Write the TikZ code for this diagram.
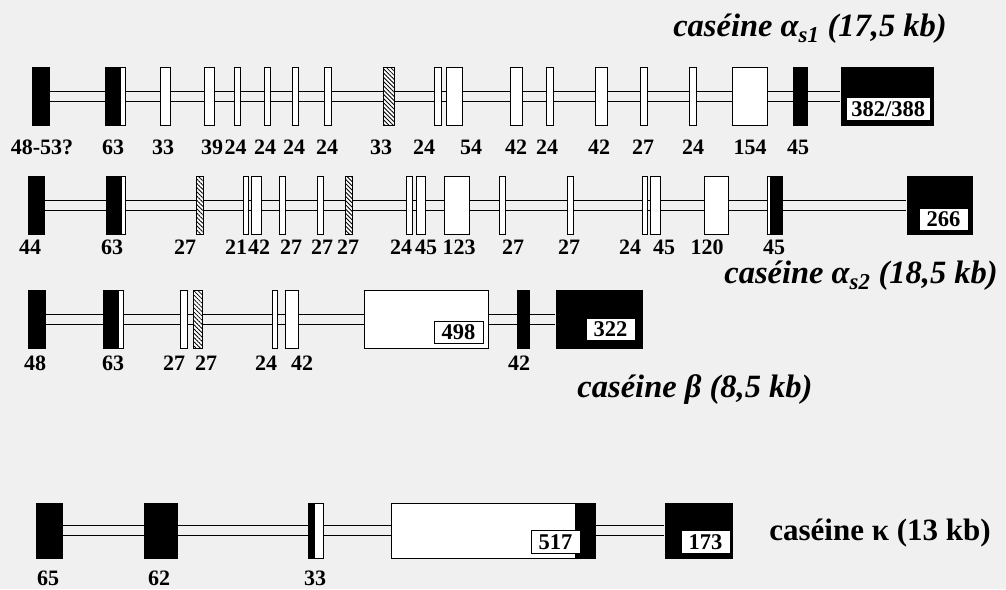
\documentclass[tikz,border=0pt]{standalone}
\usepackage{fontspec}
\setmainfont{Liberation Serif}
\usepackage{tikz}
\usetikzlibrary{positioning,patterns.meta}
\definecolor{paper}{gray}{0.94}

\begin{document}
\begin{tikzpicture}[x=1pt,y=-1pt,
    exon/.style={draw=black,fill=white,line width=1pt,inner sep=0pt,minimum height=58pt},
    utr/.style={exon,fill=black},
    hatch/.style={exon,postaction={pattern={Lines[angle=-45,distance=3pt,line width=0.8pt]}}},
    blackleft/.style={exon,path picture={\fill[black] (path picture bounding box.south west) rectangle ([xshift=-#1]path picture bounding box.north east);}},
    blackright/.style={exon,path picture={\fill[black] ([xshift=#1]path picture bounding box.south west) rectangle (path picture bounding box.north east);}},
    intron/.style={draw=black,line width=1pt,double=paper,double distance=9pt,shorten <=0.5pt,shorten >=0.5pt},
    lab/.style={font=\bfseries\fontsize{22}{24}\selectfont,inner sep=0pt},
    numbox/.style={draw=black,fill=white,line width=1pt,inner xsep=5pt,inner ysep=3.5pt,minimum width=49pt,font=\bfseries\fontsize{22.5}{24}\selectfont},
    genetitle/.style={font=\bfseries\itshape\fontsize{32.5}{34}\selectfont,inner sep=0pt,anchor=base}]
    \pgfmathsetmacro{\rowa}{96} % exon rows, y of the intron line
    \pgfmathsetmacro{\rowb}{205.5}
    \pgfmathsetmacro{\rowc}{319.5}
    \pgfmathsetmacro{\rowd}{530.5}
    \pgfmathsetmacro{\laba}{147} % exon sizes below each row
    \pgfmathsetmacro{\labb}{247.5}
    \pgfmathsetmacro{\labc}{363}
    \pgfmathsetmacro{\labd}{578}

    \fill[paper] (0,0) rectangle (1006,589);
    \useasboundingbox (0,0) rectangle (1006,589);

    % alpha s1
    \node[utr,minimum width=17pt] (a1) at (40.5,\rowa) {};
    \node[blackleft=4pt,minimum width=20pt] (a2) at (115,\rowa) {};
    \node[exon,minimum width=10pt] (a3) at (165,\rowa) {};
    \node[exon,minimum width=10pt] (a4) at (209,\rowa) {};
    \node[exon,minimum width=6pt] (a5) at (237,\rowa) {};
    \node[exon,minimum width=6pt] (a6) at (267,\rowa) {};
    \node[exon,minimum width=6pt] (a7) at (295,\rowa) {};
    \node[exon,minimum width=7pt] (a8) at (327.5,\rowa) {};
    \node[hatch,minimum width=11pt] (a9) at (388.5,\rowa) {};
    \node[exon,minimum width=7pt] (a10) at (437.5,\rowa) {};
    \node[exon,minimum width=16pt] (a11) at (454,\rowa) {};
    \node[exon,minimum width=12pt] (a12) at (516,\rowa) {};
    \node[exon,minimum width=7pt] (a13) at (549.5,\rowa) {};
    \node[exon,minimum width=12pt] (a14) at (601,\rowa) {};
    \node[exon,minimum width=7pt] (a15) at (643.5,\rowa) {};
    \node[exon,minimum width=7pt] (a16) at (692.5,\rowa) {};
    \node[exon,minimum width=35pt] (a17) at (749.5,\rowa) {};
    \node[utr,minimum width=14pt] (a18) at (800,\rowa) {};
    \node[utr,minimum width=92pt] (a19) at (887,\rowa) {};
    \node[numbox,above left=5pt and 3pt of a19.south east] (a19n) {382/388};
    \draw[intron] (a1) -- (a2) (a2) -- (a3) (a3) -- (a4) (a4) -- (a5) (a5) -- (a6) (a6) -- (a7)
        (a7) -- (a8) (a8) -- (a9) (a9) -- (a10) (a10) -- (a11) (a11) -- (a12) (a12) -- (a13)
        (a13) -- (a14) (a14) -- (a15) (a15) -- (a16) (a16) -- (a17) (a17) -- (a18) (a18) -- (a19);
    \node[lab] (la1) at (42,\laba) {48-53?};
    \node[lab] (la2) at (113,\laba) {63};
    \node[lab] (la3) at (163,\laba) {33};
    \node[lab] (la4) at (212,\laba) {39};
    \node[lab] (la5) at (235.5,\laba) {24};
    \node[lab] (la6) at (265,\laba) {24};
    \node[lab] (la7) at (294,\laba) {24};
    \node[lab] (la8) at (327,\laba) {24};
    \node[lab] (la9) at (381,\laba) {33};
    \node[lab] (la10) at (424,\laba) {24};
    \node[lab] (la11) at (471,\laba) {54};
    \node[lab] (la12) at (516,\laba) {42};
    \node[lab] (la13) at (547,\laba) {24};
    \node[lab] (la14) at (599,\laba) {42};
    \node[lab] (la15) at (643,\laba) {27};
    \node[lab] (la16) at (693,\laba) {24};
    \node[lab] (la17) at (750,\laba) {154};
    \node[lab] (la18) at (798,\laba) {45};
    \node[genetitle] (ta) at (810,36) {caséine α\textsubscript{s1} (17,5 kb)};

    % alpha s2
    \node[utr,minimum width=16pt] (b1) at (36,\rowb) {};
    \node[blackleft=3pt,minimum width=19pt] (b2) at (115.5,\rowb) {};
    \node[hatch,minimum width=7pt] (b3) at (199.5,\rowb) {};
    \node[exon,minimum width=5pt] (b4) at (245.5,\rowb) {};
    \node[exon,minimum width=10pt] (b5) at (256,\rowb) {};
    \node[exon,minimum width=6pt] (b6) at (282,\rowb) {};
    \node[exon,minimum width=6pt] (b7) at (320,\rowb) {};
    \node[hatch,minimum width=7pt] (b8) at (348.5,\rowb) {};
    \node[exon,minimum width=6pt] (b9) at (409,\rowb) {};
    \node[exon,minimum width=9pt] (b10) at (420.5,\rowb) {};
    \node[exon,minimum width=25pt] (b11) at (456.5,\rowb) {};
    \node[exon,minimum width=6pt] (b12) at (502,\rowb) {};
    \node[exon,minimum width=6pt] (b13) at (570,\rowb) {};
    \node[exon,minimum width=5pt] (b14) at (644.5,\rowb) {};
    \node[exon,minimum width=10pt] (b15) at (655,\rowb) {};
    \node[exon,minimum width=24pt] (b16) at (716,\rowb) {};
    \node[blackright=3pt,minimum width=15pt] (b17) at (774.5,\rowb) {};
    \node[utr,minimum width=65pt] (b18) at (939.5,\rowb) {};
    \node[numbox,above left=4pt and 4pt of b18.south east] (b18n) {266};
    \draw[intron] (b1) -- (b2) (b2) -- (b3) (b3) -- (b4) (b4) -- (b5) (b5) -- (b6) (b6) -- (b7)
        (b7) -- (b8) (b8) -- (b9) (b9) -- (b10) (b10) -- (b11) (b11) -- (b12) (b12) -- (b13)
        (b13) -- (b14) (b14) -- (b15) (b15) -- (b16) (b16) -- (b17) (b17) -- (b18);
    \node[lab] (lb1) at (30,\labb) {44};
    \node[lab] (lb2) at (112,\labb) {63};
    \node[lab] (lb3) at (185,\labb) {27};
    \node[lab] (lb4) at (236,\labb) {21};
    \node[lab] (lb5) at (259,\labb) {42};
    \node[lab] (lb6) at (291,\labb) {27};
    \node[lab] (lb7) at (322,\labb) {27};
    \node[lab] (lb8) at (348,\labb) {27};
    \node[lab] (lb9) at (401,\labb) {24};
    \node[lab] (lb10) at (426,\labb) {45};
    \node[lab] (lb11) at (459,\labb) {123};
    \node[lab] (lb12) at (513,\labb) {27};
    \node[lab] (lb13) at (569,\labb) {27};
    \node[lab] (lb14) at (630,\labb) {24};
    \node[lab] (lb15) at (664,\labb) {45};
    \node[lab] (lb16) at (707,\labb) {120};
    \node[lab] (lb17) at (774,\labb) {45};
    \node[genetitle] (tb) at (861,283) {caséine α\textsubscript{s2} (18,5 kb)};

    % beta
    \node[utr,minimum width=17pt] (c1) at (36.5,\rowc) {};
    \node[blackleft=4pt,minimum width=20pt] (c2) at (113,\rowc) {};
    \node[exon,minimum width=7pt] (c3) at (183.5,\rowc) {};
    \node[hatch,minimum width=9pt] (c4) at (197.5,\rowc) {};
    \node[exon,minimum width=5pt] (c5) at (275,\rowc) {};
    \node[exon,minimum width=13pt] (c6) at (291.5,\rowc) {};
    \node[exon,minimum width=124pt] (c7) at (426,\rowc) {};
    \node[numbox,above left=5pt and 5pt of c7.south east] (c7n) {498};
    \node[utr,minimum width=12pt] (c8) at (523,\rowc) {};
    \node[utr,minimum width=86pt] (c9) at (599,\rowc) {};
    \node[numbox,above left=8pt and 7pt of c9.south east] (c9n) {322};
    \draw[intron] (c1) -- (c2) (c2) -- (c3) (c3) -- (c4) (c4) -- (c5) (c5) -- (c6) (c6) -- (c7)
        (c7) -- (c8) (c8) -- (c9);
    \node[lab] (lc1) at (35,\labc) {48};
    \node[lab] (lc2) at (113,\labc) {63};
    \node[lab] (lc3) at (174,\labc) {27};
    \node[lab] (lc4) at (206,\labc) {27};
    \node[lab] (lc5) at (266,\labc) {24};
    \node[lab] (lc6) at (302,\labc) {42};
    \node[lab] (lc8) at (519,\labc) {42};
    \node[genetitle] (tc) at (695,397) {caséine β (8,5 kb)};

    % kappa
    \begin{scope}[exon/.append style={minimum height=55pt}]
    \node[utr,minimum width=26pt] (d1) at (49,\rowd) {};
    \node[utr,minimum width=33pt] (d2) at (160.5,\rowd) {};
    \node[blackleft=8pt,minimum width=15pt] (d3) at (315.5,\rowd) {};
    \node[blackright=184pt,minimum width=204pt] (d4) at (493,\rowd) {};
    \node[utr,minimum width=67pt] (d5) at (698.5,\rowd) {};
    \end{scope}
    \node[numbox,above left=5pt and 15pt of d4.south east] (d4n) {517};
    \node[numbox,above left=5pt and 2pt of d5.south east] (d5n) {173};
    \draw[intron] (d1) -- (d2) (d2) -- (d3) (d3) -- (d4) (d4) -- (d5);
    \node[lab] (ld1) at (48,\labd) {65};
    \node[lab] (ld2) at (159,\labd) {62};
    \node[lab] (ld3) at (315,\labd) {33};
    \node[genetitle,font=\bfseries\fontsize{31}{33}\selectfont] (td) at (880,540) {caséine κ (13 kb)};
\end{tikzpicture}
\end{document}
